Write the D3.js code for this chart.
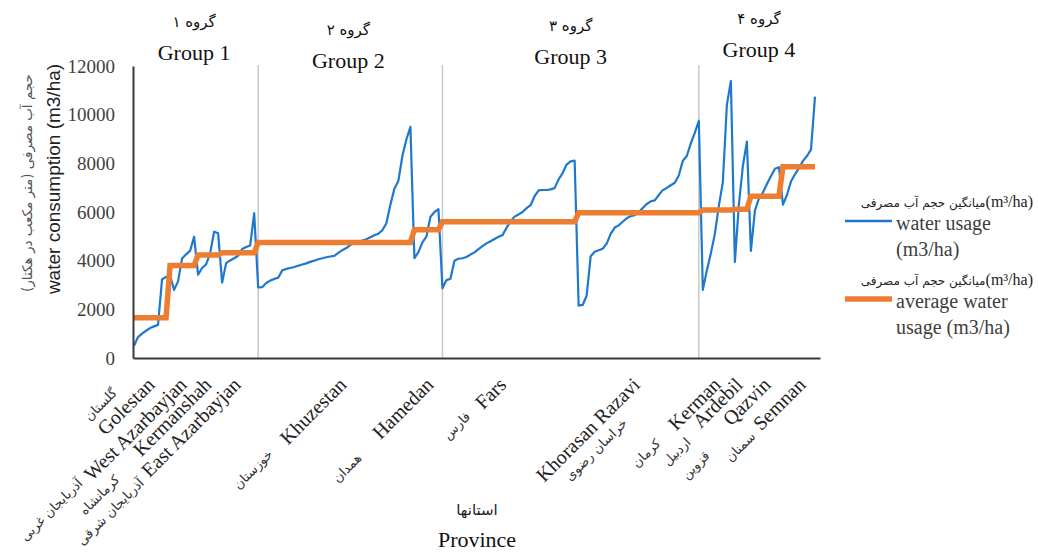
<!DOCTYPE html>
<html>
<head>
<meta charset="utf-8">
<script src="https://cdn.jsdelivr.net/npm/d3@7"></script>
<style>
  body { margin: 0; background: #fff; }
  .serif { font-family: "Liberation Serif", "Times New Roman", serif; }
  .fa { font-family: "DejaVu Sans", sans-serif; }
</style>
</head>
<body>
<svg width="1038" height="552"></svg>
<script>
// water usage per county, sorted inside each province (m3/ha)
var golestan = [500, 860, 1000, 1120, 1230, 1300, 1360, 3230, 3330];
var westAzarbayjan = [3400, 2800, 3150, 4090, 4260, 4400, 4985];
var kermanshah = [3420, 3700, 3850, 4300, 5190, 5125];
var eastAzarbayjan = [3100, 3900, 4010, 4100, 4200, 4480, 4560, 4620, 5950];
var khuzestan = [2900, 2910, 3080, 3180, 3250, 3300, 3600, 3660, 3700, 3740, 3790, 3840, 3890, 3950,
    4000, 4060, 4100, 4140, 4170, 4200, 4320, 4430, 4520, 4640, 4730, 4780, 4830, 4880, 4960, 5040,
    5110, 5250, 5535, 6300, 6950, 7280, 8300, 8980, 9500];
var hamedan = [4100, 4350, 4750, 4990, 5800, 6000, 6120];
var fars = [2870, 3200, 3260, 4000, 4080, 4100, 4150, 4250, 4340, 4470, 4600, 4710, 4800, 4890, 4980,
    5050, 5350, 5620, 5810, 5900, 6000, 6160, 6280, 6650, 6890, 6905, 6905, 6930, 6980, 7340, 7600,
    7950, 8080, 8110];
var khorasanRazavi = [2150, 2180, 2560, 4180, 4370, 4430, 4490, 4700, 5100, 5360, 5450, 5600, 5740,
    5830, 5870, 6000, 6160, 6330, 6440, 6480, 6700, 6900, 6990, 7100, 7200, 7500, 8100, 8300, 8820,
    9250, 9750];
var kerman = [2800, 3600, 4300, 5100, 6250, 7230, 10400, 11380];
var ardebil = [3950, 6300, 7900, 8890];
var qazvin = [4400, 6050, 6560, 6800, 7150, 7470, 7780, 7840];
var semnan = [6300, 6700, 7250, 7550, 7800, 8100, 8300, 8560, 10740];

var provinceSeries = [golestan, westAzarbayjan, kermanshah, eastAzarbayjan, khuzestan, hamedan,
    fars, khorasanRazavi, kerman, ardebil, qazvin, semnan];
var provinceNames = ["Golestan", "West Azarbayjan", "Kermanshah", "East Azarbayjan", "Khuzestan",
    "Hamedan", "Fars", "Khorasan Razavi", "Kerman", "Ardebil", "Qazvin", "Semnan"];
var provinceNamesFa = ["گلستان", "آذربایجان غربی", "کرمانشاه", "آذربایجان شرقی", "خوزستان",
    "همدان", "فارس", "خراسان رضوی", "کرمان", "اردبیل", "قزوین", "سمنان"];
var provinceAverage = [1650, 3800, 4230, 4330, 4750, 5270, 5600, 5970, 6080, 6110, 6650, 7860];
var provinceGroup = [0, 0, 0, 0, 1, 1, 2, 2, 3, 3, 3, 3];
// category position of each province label on the axis
var labelAt = [4.2, 12.2, 18.4, 25.7, 52.1, 73.8, 92, 125.4, 145.5, 151, 158, 166.7];

var groupNames = ["Group 1", "Group 2", "Group 3", "Group 4"];
var groupNamesFa = ["گروه ۱", "گروه ۲", "گروه ۳", "گروه ۴"];
var yTicks = [0, 2000, 4000, 6000, 8000, 10000, 12000];

// layout only
var faLabelOffset = [[-52, 19], [-184, 2], [-157, -4], [-182, -3], [-126, 1], [-120, -3],
    [-64, 1], [-77, -20], [-101, -1], [-94, -6], [-110, -9], [-90, -3]];
var groupTitleY = [60, 68, 64, 57];

var colorUsage = "#1f78cc";
var colorAverage = "#ed7d31";

var canvas = d3.select("svg");

// flatten into one category sequence
var usage = [], average = [], groupOfPoint = [];
provinceSeries.forEach(function (arr, p) {
    arr.forEach(function (v) {
        usage.push(v);
        average.push(provinceAverage[p]);
        groupOfPoint.push(provinceGroup[p]);
    });
});

var xScale = d3.scaleLinear()
    .domain([-0.25, usage.length + 0.25])
    .range([133, 820]);
var yScale = d3.scaleLinear()
    .domain([0, 12000])
    .range([358, 66]);

// group separators: first point of groups 2 and 3, last point of group 3
var separators = [];
for (var i = 1; i < usage.length; i++) {
    if (groupOfPoint[i] !== groupOfPoint[i - 1]) {
        separators.push(groupOfPoint[i] === 3 ? i - 1 : i);
    }
}

canvas.selectAll("line.sep")
    .data(separators)
    .enter()
    .append("line")
    .attr("class", "sep")
    .attr("x1", d => xScale(d))
    .attr("x2", d => xScale(d))
    .attr("y1", yScale(12000) - 1)
    .attr("y2", yScale(0))
    .attr("stroke", "#c9c9c9")
    .attr("stroke-width", 1.5);

var line = d3.line()
    .x((d, i) => xScale(i))
    .y(d => yScale(d));

canvas.append("path")
    .datum(usage)
    .attr("d", line)
    .attr("fill", "none")
    .attr("stroke", colorUsage)
    .attr("stroke-width", 2.2)
    .attr("stroke-linejoin", "round");

canvas.append("path")
    .datum(average)
    .attr("d", line)
    .attr("fill", "none")
    .attr("stroke", colorAverage)
    .attr("stroke-width", 5.5);

// axes
var yAxis = canvas.append("g")
    .attr("transform", "translate(133,0)")
    .call(d3.axisLeft(yScale).tickValues(yTicks).tickSize(0).tickPadding(18).tickFormat(d3.format("d")));
yAxis.select(".domain").attr("stroke", "#3a3a3a").attr("stroke-width", 2);
yAxis.selectAll("text")
    .attr("class", "serif")
    .style("font-size", "19px")
    .style("fill", "#404040");

var xAxis = canvas.append("g")
    .attr("transform", "translate(0,358)")
    .call(d3.axisBottom(xScale).tickValues([]).tickSizeOuter(0));
xAxis.select(".domain").attr("stroke", "#3a3a3a").attr("stroke-width", 2);

// province labels
var labels = canvas.selectAll("g.plabel")
    .data(provinceNames)
    .enter()
    .append("g")
    .attr("class", "plabel")
    .attr("transform", (d, k) => `translate(${xScale(labelAt[k])},381) rotate(-45)`);

labels.append("text")
    .attr("class", "serif")
    .attr("text-anchor", "end")
    .attr("dominant-baseline", "central")
    .style("font-size", "20px")
    .style("fill", "#222")
    .text(d => d);

labels.append("text")
    .attr("class", "fa")
    .attr("text-anchor", "middle")
    .attr("dominant-baseline", "central")
    .attr("x", (d, k) => faLabelOffset[k][0])
    .attr("y", (d, k) => -faLabelOffset[k][1])
    .style("font-size", "13px")
    .style("fill", "#333")
    .text((d, k) => provinceNamesFa[k]);

// group titles
var groupCenters = groupNames.map(function (g, gi) {
    var idx = groupOfPoint.map((v, i) => v === gi ? i : -1).filter(i => i >= 0);
    return (d3.min(idx) + d3.max(idx)) / 2;
});

canvas.selectAll("text.gtitle")
    .data(groupNames)
    .enter()
    .append("text")
    .attr("class", "serif gtitle")
    .attr("x", (d, gi) => xScale(groupCenters[gi]))
    .attr("y", (d, gi) => groupTitleY[gi])
    .attr("text-anchor", "middle")
    .style("font-size", "22px")
    .style("fill", "#111")
    .text(d => d);

canvas.selectAll("text.gtitleFa")
    .data(groupNamesFa)
    .enter()
    .append("text")
    .attr("class", "fa gtitleFa")
    .attr("x", (d, gi) => xScale(groupCenters[gi]))
    .attr("y", (d, gi) => groupTitleY[gi] - 33)
    .attr("text-anchor", "middle")
    .style("font-size", "15px")
    .style("fill", "#111")
    .text(d => d);

// axis titles
canvas.append("text")
    .attr("transform", "translate(60,179) rotate(-90)")
    .attr("text-anchor", "middle")
    .style("font-family", "'Liberation Sans', Arial, sans-serif")
    .style("font-size", "19px")
    .style("fill", "#222")
    .text("water consumption (m3/ha)");

canvas.append("text")
    .attr("class", "fa")
    .attr("transform", "translate(32,183) rotate(-90)")
    .attr("text-anchor", "middle")
    .attr("direction", "rtl")
    .style("font-size", "13.5px")
    .style("fill", "#555")
    .text("حجم آب مصرفی (متر مکعب در هکتار)");

canvas.append("text")
    .attr("class", "fa")
    .attr("x", 477)
    .attr("y", 515)
    .attr("text-anchor", "middle")
    .style("font-size", "15px")
    .style("fill", "#222")
    .text("استانها");

canvas.append("text")
    .attr("class", "serif")
    .attr("x", 477)
    .attr("y", 547)
    .attr("text-anchor", "middle")
    .style("font-size", "22px")
    .style("fill", "#111")
    .text("Province");

// legend
var legendItems = [
    { color: colorUsage, width: 2.5, lines: ["water usage", "(m3/ha)"], y: 221 },
    { color: colorAverage, width: 5.5, lines: ["average water", "usage (m3/ha)"], y: 299 }
];
var legend = canvas.selectAll("g.legend")
    .data(legendItems)
    .enter()
    .append("g")
    .attr("class", "legend");

legend.append("line")
    .attr("x1", 845).attr("x2", 892)
    .attr("y1", d => d.y).attr("y2", d => d.y)
    .attr("stroke", d => d.color)
    .attr("stroke-width", d => d.width);

var faHead = legend.append("text")
    .attr("x", 1033)
    .attr("y", d => d.y - 14)
    .attr("text-anchor", "end");
faHead.append("tspan").attr("class", "fa").style("font-size", "12px").style("fill", "#222")
    .text("میانگین حجم آب مصرفی");
faHead.append("tspan").attr("class", "serif").style("font-size", "16px").style("fill", "#222")
    .text("(m³/ha)");

legend.each(function (d) {
    var t = d3.select(this).append("text")
        .attr("class", "serif")
        .style("font-size", "20px")
        .style("fill", "#404040");
    d.lines.forEach(function (s, k) {
        t.append("tspan").attr("x", 896).attr("y", d.y + 9 + k * 26).text(s);
    });
});
</script>
</body>
</html>
